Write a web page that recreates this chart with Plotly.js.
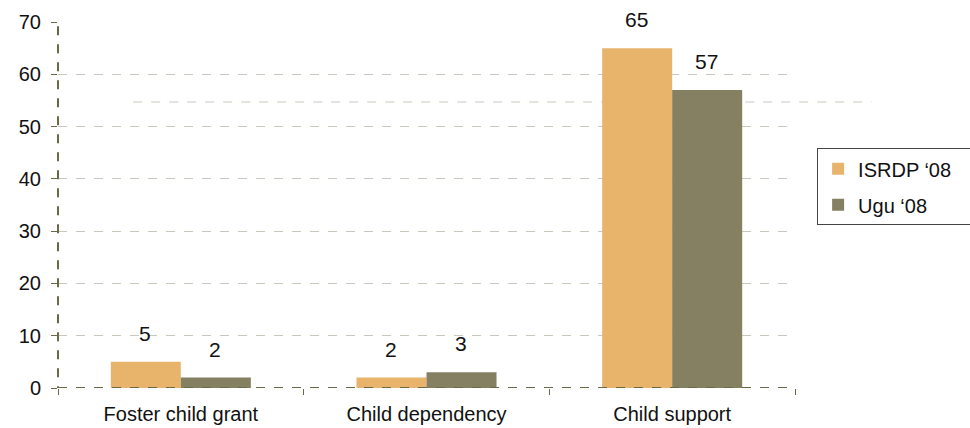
<!DOCTYPE html>
<html><head><meta charset="utf-8">
<script src="https://cdn.plot.ly/plotly-3.0.1.min.js"></script>
<style>html,body{margin:0;padding:0;background:#fff}#chart{width:970px;height:428px}</style>
</head><body><div id="chart"></div>
<script>
const categories = ["Foster child grant", "Child dependency", "Child support"];
const seriesNames = ["ISRDP \u201808", "Ugu \u201808"];
const isrdp = [5, 2, 65];
const ugu = [2, 3, 57];
const yTicks = [0, 10, 20, 30, 40, 50, 60, 70];
const gridVals = [10, 20, 30, 40, 50, 60];
const strayLineValue = 54.7;

const FONT = "Liberation Sans, Arial, sans-serif";
const FS = 20;
const axisColor = "#6b6a48";
const colors = ["#E8B46B", "#868063"];

const traces = [isrdp, ugu].map((vals, i) => ({
  type: "bar", name: seriesNames[i] + "\u00a0\u00a0\u2009", x: categories, y: vals,
  marker: {color: colors[i]}, legendgroup: "g" + i,
  hoverinfo: "skip"
}));
traces.push({type: "scatter", x: [categories[0]], y: [0], yaxis: "y2", mode: "markers",
  marker: {opacity: 0}, showlegend: false, hoverinfo: "skip"});

const annotations = [];
[isrdp, ugu].forEach((vals, i) => {
  vals.forEach((v, j) => annotations.push({
    x: categories[j], y: v, xref: "x", yref: "y", text: String(v),
    showarrow: false, xshift: i === 0 ? -36 : 34, yshift: 15, yanchor: "bottom",
    font: {family: FONT, size: 21, color: "#111"}
  }));
});

const layout = {
  width: 970, height: 428,
  margin: {l: 58, r: 175, t: 22, b: 40, autoexpand: false},
  paper_bgcolor: "#fff", plot_bgcolor: "rgba(0,0,0,0)",
  font: {family: FONT, size: FS, color: "#111"},
  barmode: "group", bargap: 0.43, bargroupgap: 0,
  showlegend: true,
  legend: {x: 1.03, xanchor: "left", y: 0.655, yanchor: "top",
    bordercolor: "#444", borderwidth: 1, font: {family: FONT, size: FS},
    tracegroupgap: 7, traceorder: "grouped", itemsizing: "constant"},
  xaxis: {type: "category", showline: false, showgrid: false, ticks: "outside", tickson: "boundaries",
    ticklen: 6, tickcolor: axisColor, tickfont: {size: FS}, zeroline: false, ticklabelstandoff: 12},
  yaxis: {range: [0, 70], tickvals: yTicks, showgrid: false, showline: false,
    ticks: "outside", ticklen: 6, tickcolor: axisColor, tickfont: {size: FS},
    zeroline: false, ticklabelstandoff: 6},
  yaxis2: {range: [0, 70], overlaying: "y", tickvals: gridVals, showgrid: true,
    gridcolor: "#c9c8bd", griddash: "dash", gridwidth: 1, showticklabels: false,
    ticks: "", showline: false, zeroline: false},
  annotations: annotations,
  shapes: [
    {type: "line", xref: "paper", yref: "y", x0: 0, x1: 1, y0: 0, y1: 0,
     line: {color: axisColor, width: 2, dash: "dash"}, layer: "above"},
    {type: "line", xref: "x domain", yref: "y", x0: 0, x1: 0, y0: -1.4, y1: 70,
     line: {color: axisColor, width: 2, dash: "dash"}, layer: "above"},
    {type: "line", xref: "paper", yref: "y", x0: 0.102, x1: 1.104, y0: strayLineValue, y1: strayLineValue,
     line: {color: "#c9c8bd", width: 1, dash: "dash"}, layer: "below"}
  ]
};
Plotly.newPlot("chart", traces, layout, {displayModeBar: false, staticPlot: true});
</script></body></html>
